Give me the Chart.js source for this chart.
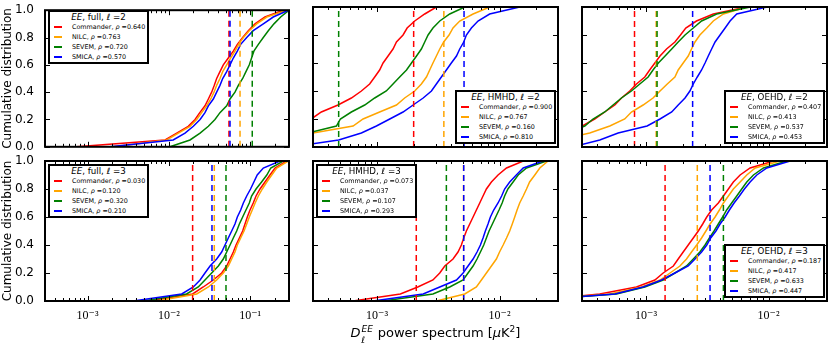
<!DOCTYPE html>
<html>
<head>
<meta charset="utf-8">
<script src="https://cdn.jsdelivr.net/npm/chart.js@4.4.1/dist/chart.umd.min.js"></script>
<style>
  body { margin: 0; background: #fff; }
  #fig { position: relative; width: 830px; height: 345px; overflow: hidden; font-family: "DejaVu Sans", sans-serif; color: #000; }
  #fig canvas { position: absolute; }
  .leg { position: absolute; box-sizing: border-box; width: 101px; height: 54px; border: 2px solid #000; background: #fff; }
  .leg .ttl { position: absolute; left: 0; right: 0; top: -1px; height: 12px; line-height: 12px; text-align: center; font-size: 8.7px; white-space: nowrap; }
  .leg .row { position: absolute; left: 0; right: 0; height: 10px; line-height: 10px; font-size: 6.4px; white-space: nowrap; }
  .leg .sw { position: absolute; left: 4px; top: 4px; width: 8px; height: 2px; }
  .leg .txt { position: absolute; left: 22px; top: 0; }
  #xtitle { position: absolute; left: 313px; width: 245px; top: 322px; text-align: center; font-size: 13px; line-height: 15px; white-space: nowrap; }
  #xtitle .ss { display: inline-block; position: relative; width: 13px; height: 10px; }
  #xtitle .sp { position: absolute; left: 1px; top: -5px; font-size: 9px; }
  #xtitle .sb { position: absolute; left: 1px; top: 6px; font-size: 9px; }
</style>
</head>
<body>
<div id="fig">
  <div id="xtitle"><i>D</i><span class="ss"><i class="sp">EE</i><i class="sb">ℓ</i></span> power spectrum [<i>μ</i>K<sup style="font-size:9px">2</sup>]</div>
</div>
<script>
// cumulative levels shared by every curve; each curve lists the x value reached at each level
const cdfLevels = [0, 0.05, 0.1, 0.15, 0.2, 0.25, 0.3, 0.35, 0.4, 0.45, 0.5, 0.55, 0.6, 0.65, 0.7, 0.75, 0.8, 0.85, 0.9, 0.95, 1];
const methods = ['Commander', 'NILC', 'SEVEM', 'SMICA'];
const methodColors = ['#ff0000', '#ffa500', '#008000', '#0000ff'];

const yTickValues = [0, 0.2, 0.4, 0.6, 0.8, 1];
const yTickLabels = ['0.0', '0.2', '0.4', '0.6', '0.8', '1.0'];
const xTicksWide = [1e-3, 1e-2, 1e-1];
const xLabelsWide = ['10⁻³', '10⁻²', '10⁻¹'];
const xTicksNarrow = [1e-3, 1e-2];
const xLabelsNarrow = ['10⁻³', '10⁻²'];
const xRangeWide = [3e-4, 0.3];
const xRangeNarrow = [3e-4, 3e-2];

// EE, full, l=2
const fullL2Commander = [7.3e-4, 9.0e-3, 0.0125, 0.0173, 0.021, 0.024, 0.0278, 0.0306, 0.0336, 0.0362, 0.0387, 0.0425, 0.0467, 0.0538, 0.062, 0.0695, 0.0808, 0.0948, 0.1145, 0.152, 0.255];
const fullL2Nilc = [2.07e-3, 9.4e-3, 0.0131, 0.0182, 0.022, 0.0253, 0.0292, 0.0327, 0.0359, 0.0387, 0.0425, 0.0459, 0.0514, 0.0575, 0.065, 0.0721, 0.0824, 0.0975, 0.120, 0.160, 0.281];
const fullL2Sevem = [0.0103, 0.0182, 0.0242, 0.0306, 0.0369, 0.0425, 0.0514, 0.0565, 0.065, 0.0715, 0.0808, 0.0887, 0.0975, 0.104, 0.111, 0.126, 0.145, 0.167, 0.196, 0.237, 0.30];
const fullL2Smica = [1.89e-3, 0.0113, 0.0158, 0.020, 0.0242, 0.0278, 0.0306, 0.0352, 0.0387, 0.0425, 0.0459, 0.0514, 0.0565, 0.062, 0.0695, 0.0764, 0.0906, 0.109, 0.145, 0.192, 0.294];
const fullL2Marks = [0.0548, 0.075, 0.106, 0.0565];
const fullL2Rho = ['0.640', '0.763', '0.720', '0.570'];

// EE, HMHD, l=2
const hmhdL2Commander = [6e-5, 1.1e-4, 1.6e-4, 2.2e-4, 2.9e-4, 3.51e-4, 4.8e-4, 6.17e-4, 7.45e-4, 8.7e-4, 9.57e-4, 1.05e-3, 1.12e-3, 1.23e-3, 1.35e-3, 1.44e-3, 1.63e-3, 1.76e-3, 2.03e-3, 2.45e-3, 3.05e-3];
const hmhdL2Nilc = [6e-5, 1.3e-4, 3.0e-4, 6.37e-4, 7.69e-4, 1.05e-3, 1.44e-3, 1.68e-3, 2.03e-3, 2.30e-3, 2.53e-3, 2.69e-3, 2.86e-3, 3.05e-3, 3.25e-3, 3.50e-3, 3.87e-3, 4.17e-3, 4.73e-3, 6.08e-3, 8.3e-3];
const hmhdL2Sevem = [6e-5, 1.2e-4, 2.7e-4, 4.66e-4, 5.02e-4, 6.17e-4, 7.93e-4, 9.57e-4, 1.19e-3, 1.35e-3, 1.53e-3, 1.74e-3, 1.91e-3, 2.10e-3, 2.30e-3, 2.45e-3, 2.61e-3, 2.86e-3, 3.25e-3, 3.92e-3, 5.2e-3];
const hmhdL2Smica = [2.0e-4, 4.86e-4, 7.45e-4, 9.88e-4, 1.27e-3, 1.63e-3, 1.97e-3, 2.38e-3, 2.78e-3, 3.05e-3, 3.35e-3, 3.68e-3, 4.04e-3, 4.45e-3, 4.73e-3, 5.1e-3, 5.36e-3, 5.89e-3, 6.67e-3, 8.3e-3, 0.0146];
const hmhdL2Marks = [1.99e-3, 3.51e-3, 4.86e-4, 5.13e-3];
const hmhdL2Rho = ['0.900', '0.767', '0.160', '0.810'];

// EE, OEHD, l=2
const oehdL2Commander = [1e-4, 1.6e-4, 2.3e-4, 3.0e-4, 3.81e-4, 4.6e-4, 5.56e-4, 6.3e-4, 7.36e-4, 8.35e-4, 9.77e-4, 1.07e-3, 1.18e-3, 1.30e-3, 1.47e-3, 1.72e-3, 1.91e-3, 2.11e-3, 2.58e-3, 3.54e-3, 6.6e-3];
const oehdL2Nilc = [1e-4, 2e-4, 3.47e-4, 5.06e-4, 6.7e-4, 7.6e-4, 9.46e-4, 1.14e-3, 1.30e-3, 1.49e-3, 1.72e-3, 1.83e-3, 2.01e-3, 2.21e-3, 2.35e-3, 2.51e-3, 2.75e-3, 3.13e-3, 3.54e-3, 4.28e-3, 6.6e-3];
const oehdL2Sevem = [1e-4, 1.6e-4, 2.3e-4, 3.16e-4, 3.69e-4, 4.6e-4, 5.38e-4, 6.3e-4, 7.6e-4, 8.89e-4, 1.04e-3, 1.14e-3, 1.26e-3, 1.43e-3, 1.62e-3, 1.83e-3, 2.08e-3, 2.43e-3, 2.84e-3, 3.77e-3, 7.1e-3];
const oehdL2Smica = [2.5e-4, 4.19e-4, 5.92e-4, 1.02e-3, 1.30e-3, 1.62e-3, 1.83e-3, 2.08e-3, 2.28e-3, 2.43e-3, 2.62e-3, 2.84e-3, 3.03e-3, 3.22e-3, 3.43e-3, 3.66e-3, 4.02e-3, 4.42e-3, 4.85e-3, 5.5e-3, 9.7e-3];
const oehdL2Marks = [8.05e-4, 1.21e-3, 1.23e-3, 2.40e-3];
const oehdL2Rho = ['0.407', '0.413', '0.537', '0.453'];

// EE, full, l=3
const fullL3Commander = [5.86e-3, 0.0196, 0.0265, 0.0352, 0.0446, 0.0514, 0.0565, 0.062, 0.067, 0.0736, 0.0808, 0.0863, 0.0922, 0.0995, 0.109, 0.118, 0.132, 0.152, 0.175, 0.202, 0.281];
const fullL3Nilc = [7.08e-3, 0.022, 0.0306, 0.0387, 0.0467, 0.0538, 0.0592, 0.065, 0.0695, 0.0764, 0.084, 0.0906, 0.0975, 0.106, 0.115, 0.126, 0.141, 0.160, 0.184, 0.212, 0.294];
const fullL3Sevem = [4.85e-3, 0.0165, 0.023, 0.0278, 0.0336, 0.0406, 0.0467, 0.0514, 0.0565, 0.062, 0.0682, 0.0736, 0.0808, 0.0887, 0.0975, 0.104, 0.118, 0.138, 0.160, 0.179, 0.255];
const fullL3Smica = [3.66e-3, 0.0144, 0.020, 0.0242, 0.0278, 0.0321, 0.0387, 0.0446, 0.049, 0.0538, 0.0592, 0.065, 0.0695, 0.0764, 0.0824, 0.0906, 0.101, 0.111, 0.122, 0.145, 0.232];
const fullL3Marks = [0.0196, 0.0362, 0.0504, 0.0339];
const fullL3Rho = ['0.030', '0.120', '0.320', '0.210'];

// EE, HMHD, l=3
const hmhdL3Commander = [6.37e-4, 1.55e-3, 2.15e-3, 2.86e-3, 3.25e-3, 3.57e-3, 4.17e-3, 4.58e-3, 4.88e-3, 5.1e-3, 5.36e-3, 5.71e-3, 6.08e-3, 6.47e-3, 6.89e-3, 7.33e-3, 7.81e-3, 8.58e-3, 9.72e-3, 0.0114, 0.0156];
const hmhdL3Nilc = [3.05e-3, 5.2e-3, 6.47e-3, 7.11e-3, 7.81e-3, 8.58e-3, 9.42e-3, 0.0100, 0.0107, 0.0114, 0.0121, 0.0127, 0.0133, 0.0139, 0.0146, 0.0156, 0.0166, 0.0176, 0.0194, 0.0213, 0.0249];
const hmhdL3Sevem = [1.12e-3, 2.86e-3, 3.92e-3, 5.04e-3, 5.53e-3, 6.08e-3, 6.55e-3, 6.98e-3, 7.43e-3, 7.81e-3, 8.21e-3, 8.74e-3, 9.3e-3, 9.9e-3, 0.0105, 0.0110, 0.0117, 0.0129, 0.0142, 0.0166, 0.0241];
const hmhdL3Smica = [9.27e-4, 2.38e-3, 3.25e-3, 4.45e-3, 5.04e-3, 5.53e-3, 6.08e-3, 6.55e-3, 6.98e-3, 7.33e-3, 7.66e-3, 8.05e-3, 8.42e-3, 8.96e-3, 9.72e-3, 0.0104, 0.0110, 0.0121, 0.0137, 0.0156, 0.0226];
const hmhdL3Marks = [2.09e-3, 5.08e-3, 3.68e-3, 5.1e-3];
const hmhdL3Rho = ['0.073', '0.037', '0.107', '0.293'];

// EE, OEHD, l=3
const oehdL3Commander = [1e-4, 4.19e-4, 8.35e-4, 1.18e-3, 1.38e-3, 1.67e-3, 1.83e-3, 2.01e-3, 2.21e-3, 2.43e-3, 2.67e-3, 2.9e-3, 3.13e-3, 3.43e-3, 3.89e-3, 4.28e-3, 4.7e-3, 5.16e-3, 5.86e-3, 7.07e-3, 0.011];
const oehdL3Nilc = [1e-4, 5.06e-4, 9.18e-4, 1.30e-3, 1.57e-3, 1.89e-3, 2.14e-3, 2.35e-3, 2.59e-3, 2.84e-3, 3.08e-3, 3.33e-3, 3.66e-3, 3.97e-3, 4.28e-3, 4.7e-3, 5.16e-3, 5.86e-3, 6.64e-3, 7.78e-3, 0.0124];
const oehdL3Sevem = [1e-4, 5.73e-4, 9.77e-4, 1.38e-3, 1.72e-3, 2.14e-3, 2.43e-3, 2.75e-3, 3.03e-3, 3.29e-3, 3.59e-3, 3.89e-3, 4.22e-3, 4.55e-3, 5.0e-3, 5.5e-3, 6.04e-3, 6.64e-3, 7.53e-3, 9.09e-3, 0.0141];
const oehdL3Smica = [1e-4, 5.56e-4, 9.46e-4, 1.34e-3, 1.72e-3, 2.21e-3, 2.51e-3, 2.84e-3, 3.13e-3, 3.37e-3, 3.72e-3, 4.02e-3, 4.42e-3, 4.79e-3, 5.23e-3, 5.78e-3, 6.35e-3, 7.07e-3, 8.02e-3, 9.68e-3, 0.015];
const oehdL3Marks = [1.43e-3, 2.62e-3, 4.28e-3, 3.33e-3];
const oehdL3Rho = ['0.187', '0.417', '0.633', '0.447'];

const panels = [
  { split: 'full', ell: 2, cdfs: [fullL2Commander, fullL2Nilc, fullL2Sevem, fullL2Smica], marks: fullL2Marks, rho: fullL2Rho, range: xRangeWide, ticks: xTicksWide, labels: xLabelsWide, legendAt: 'ul' },
  { split: 'HMHD', ell: 2, cdfs: [hmhdL2Commander, hmhdL2Nilc, hmhdL2Sevem, hmhdL2Smica], marks: hmhdL2Marks, rho: hmhdL2Rho, range: xRangeNarrow, ticks: xTicksNarrow, labels: xLabelsNarrow, legendAt: 'lr' },
  { split: 'OEHD', ell: 2, cdfs: [oehdL2Commander, oehdL2Nilc, oehdL2Sevem, oehdL2Smica], marks: oehdL2Marks, rho: oehdL2Rho, range: xRangeNarrow, ticks: xTicksNarrow, labels: xLabelsNarrow, legendAt: 'lr' },
  { split: 'full', ell: 3, cdfs: [fullL3Commander, fullL3Nilc, fullL3Sevem, fullL3Smica], marks: fullL3Marks, rho: fullL3Rho, range: xRangeWide, ticks: xTicksWide, labels: xLabelsWide, legendAt: 'ul' },
  { split: 'HMHD', ell: 3, cdfs: [hmhdL3Commander, hmhdL3Nilc, hmhdL3Sevem, hmhdL3Smica], marks: hmhdL3Marks, rho: hmhdL3Rho, range: xRangeNarrow, ticks: xTicksNarrow, labels: xLabelsNarrow, legendAt: 'ul' },
  { split: 'OEHD', ell: 3, cdfs: [oehdL3Commander, oehdL3Nilc, oehdL3Sevem, oehdL3Smica], marks: oehdL3Marks, rho: oehdL3Rho, range: xRangeNarrow, ticks: xTicksNarrow, labels: xLabelsNarrow, legendAt: 'lr' },
];

// page layout of the six axes boxes
const plotLeft = [45, 313, 582];
const plotWidth = [244, 245, 245];
const plotTop = [7, 161];
const plotHeight = 140;
const yAxisWidth = 45;

Chart.defaults.font.family = '"DejaVu Sans", sans-serif';
Chart.defaults.color = '#000';

// matplotlib-like frame with inward ticks on all four sides
const frameTicks = {
  id: 'frameTicks',
  afterDatasetsDraw(chart) {
    const { ctx, chartArea: a, scales: { x, y } } = chart;
    ctx.save();
    ctx.strokeStyle = '#000';
    ctx.lineWidth = 1;
    ctx.setLineDash([]);
    ctx.beginPath();
    const lo = Math.floor(Math.log10(x.min)), hi = Math.ceil(Math.log10(x.max));
    for (let e = lo; e <= hi; e++) {
      for (let m = 1; m < 10; m++) {
        const v = m * Math.pow(10, e);
        if (v < x.min * 0.999 || v > x.max * 1.001) continue;
        const px = Math.round(x.getPixelForValue(v)) + 0.5;
        const len = m === 1 ? 5 : 3;
        ctx.moveTo(px, a.bottom); ctx.lineTo(px, a.bottom - len);
        ctx.moveTo(px, a.top); ctx.lineTo(px, a.top + len);
      }
    }
    for (const v of yTickValues) {
      const py = Math.round(y.getPixelForValue(v)) + 0.5;
      ctx.moveTo(a.left, py); ctx.lineTo(a.left + 5, py);
      ctx.moveTo(a.right, py); ctx.lineTo(a.right - 5, py);
    }
    ctx.stroke();
    ctx.lineWidth = 2;
    ctx.strokeRect(a.left, a.top, a.right - a.left, a.bottom - a.top);
    ctx.restore();
  },
};

const fig = document.getElementById('fig');

panels.forEach((p, i) => {
  const col = i % 3, row = Math.floor(i / 3);
  const isLeft = col === 0, isBottom = row === 1;
  const padLeft = isLeft ? 0 : 3;
  const axisW = isLeft ? yAxisWidth : 0;
  const canvasLeft = plotLeft[col] - axisW - padLeft;
  const canvasTop = isBottom ? 150 : 0;
  const padTop = plotTop[row] - canvasTop;
  const xAxisH = isBottom ? 30 : 0;
  const padBottom = isBottom ? 0 : 10;
  const w = padLeft + axisW + plotWidth[col] + 3;
  const h = padTop + plotHeight + xAxisH + padBottom;

  const canvas = document.createElement('canvas');
  canvas.width = w; canvas.height = h;
  canvas.style.left = canvasLeft + 'px';
  canvas.style.top = canvasTop + 'px';
  canvas.style.width = w + 'px';
  canvas.style.height = h + 'px';
  fig.insertBefore(canvas, fig.firstChild);

  // paint order: the four curves, then the four dashed markers
  const painted = [];
  p.cdfs.forEach((cdf, k) => painted.push({
    data: cdfLevels.map((lv, j) => ({ x: cdf[j], y: lv })),
    borderColor: methodColors[k], borderWidth: 1.5,
  }));
  p.marks.forEach((m, k) => painted.push({
    data: [{ x: m, y: 0 }, { x: m, y: 1 }],
    borderColor: methodColors[k], borderWidth: 1.5, borderDash: [6, 4],
  }));
  const datasets = painted.map((d, k) => Object.assign(d, {
    pointRadius: 0, fill: false, tension: 0, clip: 0, order: 100 - k,
  }));

  new Chart(canvas, {
    type: 'line',
    data: { datasets },
    options: {
      responsive: false,
      animation: false,
      events: [],
      devicePixelRatio: 1,
      layout: { autoPadding: false, padding: { left: padLeft, right: 3, top: padTop, bottom: padBottom } },
      plugins: { legend: { display: false }, tooltip: { enabled: false } },
      scales: {
        x: {
          type: 'logarithmic', min: p.range[0], max: p.range[1], display: isBottom,
          grid: { display: false }, border: { display: false },
          afterBuildTicks: s => { s.ticks = p.ticks.map(v => ({ value: v })); },
          afterFit: s => { s.height = xAxisH; },
          ticks: {
            autoSkip: false, maxRotation: 0, padding: 0,
            font: { family: '"Liberation Serif", "DejaVu Serif", serif', size: 12 },
            callback: (v, k) => p.labels[k],
          },
        },
        y: {
          type: 'linear', min: 0, max: 1, display: isLeft,
          grid: { display: false }, border: { display: false },
          afterBuildTicks: s => { s.ticks = yTickValues.map(v => ({ value: v })); },
          afterFit: s => { s.width = axisW; },
          ticks: { padding: 3, font: { size: 12 }, callback: (v, k) => yTickLabels[k] },
          title: { display: true, text: 'Cumulative distribution', font: { size: 12 }, padding: { top: 1, bottom: 0 } },
        },
      },
    },
    plugins: [frameTicks],
  });

  // legend box
  const legW = 101, legH = 54;
  const leg = document.createElement('div');
  leg.className = 'leg';
  if (p.legendAt === 'ul') {
    leg.style.left = (plotLeft[col] + 3) + 'px';
    leg.style.top = (plotTop[row] + 3) + 'px';
  } else {
    leg.style.left = (plotLeft[col] + plotWidth[col] - 2 - legW) + 'px';
    leg.style.top = (plotTop[row] + plotHeight - 3 - legH) + 'px';
  }
  let html = `<div class="ttl"><i>EE</i>, ${p.split}, <i>ℓ</i> =${p.ell}</div>`;
  methods.forEach((name, k) => {
    html += `<div class="row" style="top:${10 + 10 * k}px"><span class="sw" style="background-color:${methodColors[k]}"></span>` +
      `<span class="txt">${name}, <i>ρ</i> =${p.rho[k]}</span></div>`;
  });
  leg.innerHTML = html;
  fig.appendChild(leg);
});
</script>
</body>
</html>
